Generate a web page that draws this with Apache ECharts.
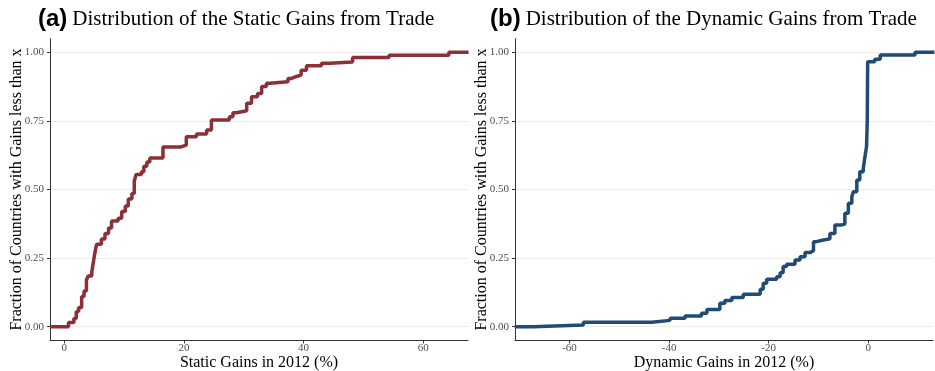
<!DOCTYPE html>
<html><head><meta charset="utf-8">
<script src="https://cdn.jsdelivr.net/npm/echarts@6/dist/echarts.min.js"></script>
<style>html,body{margin:0;padding:0;background:#fff}#c{width:935px;height:371px}</style>
</head><body><div id="c"></div>
<script>
var staticX = [-2.4, 0.7, 1.6, 2.0, 2.4, 2.9, 3.3, 3.7, 4.0, 4.6, 4.9, 5.2, 5.4, 6.2, 6.8, 7.4, 7.9, 9.0, 9.6, 10.2, 10.7, 11.3, 11.7, 12.0, 12.9, 13.3, 13.8, 14.3, 16.5, 19.5, 20.4, 22.1, 23.8, 24.6, 27.6, 28.2, 28.8, 30.5, 31.3, 32.3, 33.0, 33.8, 34.4, 37.4, 38.0, 38.8, 39.6, 40.5, 43.0, 44.4, 48.2, 54.3, 64.3, 67.6];
var staticY = [0, 0.015, 0.03, 0.055, 0.07, 0.11, 0.13, 0.17, 0.185, 0.20, 0.24, 0.28, 0.30, 0.32, 0.34, 0.36, 0.385, 0.395, 0.42, 0.44, 0.465, 0.485, 0.53, 0.555, 0.565, 0.585, 0.60, 0.615, 0.655, 0.662, 0.692, 0.702, 0.717, 0.753, 0.765, 0.78, 0.787, 0.814, 0.838, 0.850, 0.875, 0.887, 0.893, 0.905, 0.912, 0.917, 0.935, 0.951, 0.960, 0.965, 0.981, 0.989, 1.0, 1.0];
var dynamicX = [-71, -67.3, -57.2, -43.5, -39.8, -36.8, -33.5, -32.4, -29.8, -28.8, -27.4, -25.1, -21.7, -21.1, -20.4, -18.4, -17.7, -17.1, -16.4, -14.7, -13.7, -12.7, -11.7, -11.0, -10.4, -9.0, -7.7, -6.7, -5.3, -4.7, -4.0, -3.3, -3.0, -2.3, -1.7, -1.0, -0.66, -0.35, -0.2, -0.12, 1.3, 2.4, 9.4, 13.3];
var dynamicY = [0, 0.006, 0.016, 0.023, 0.031, 0.039, 0.049, 0.063, 0.085, 0.095, 0.106, 0.118, 0.136, 0.158, 0.173, 0.182, 0.197, 0.219, 0.228, 0.243, 0.255, 0.27, 0.277, 0.31, 0.316, 0.32, 0.34, 0.371, 0.374, 0.413, 0.45, 0.474, 0.492, 0.535, 0.565, 0.577, 0.62, 0.656, 0.75, 0.966, 0.975, 0.99, 1.0, 1.0];
var staticTicks = [0, 20, 40, 60];
var dynamicTicks = [-60, -40, -20, 0];
var yTicks = [0, 0.25, 0.5, 0.75, 1];
var titleA = 'Distribution of the Static Gains from Trade';
var titleB = 'Distribution of the Dynamic Gains from Trade';
var xNameA = 'Static Gains in 2012 (%)';
var xNameB = 'Dynamic Gains in 2012 (%)';
var yName = 'Fraction of Countries with Gains less than x';

function pairs(xs, ys){ return xs.map(function(x,i){return [x, ys[i]];}); }
var serif = '"Liberation Serif", "DejaVu Serif", serif';
function xAxis(idx, min, max, ticks, name){
  return {type:'value', gridIndex:idx, min:min, max:max,
    name:name, nameLocation:'middle', nameGap:14, nameMoveOverlap:false,
    nameTextStyle:{fontFamily:serif, fontSize:16, color:'#000'},
    axisLine:{show:true, onZero:false, lineStyle:{color:'#333', width:1}},
    axisTick:{show:true, length:3, customValues:ticks, lineStyle:{color:'#333'}},
    axisLabel:{customValues:ticks, fontFamily:serif, fontSize:11, color:'#4d4d4d', margin:2},
    splitLine:{show:false}};
}
function yAxis(idx){
  return {type:'value', gridIndex:idx, min:-0.05, max:1.05,
    name:yName, nameLocation:'middle', nameGap:25, nameRotate:90, nameMoveOverlap:false,
    nameTextStyle:{fontFamily:serif, fontSize:16, color:'#000'},
    axisLine:{show:true, onZero:false, lineStyle:{color:'#333', width:1}},
    axisTick:{show:true, length:3, customValues:yTicks, lineStyle:{color:'#333'}},
    axisLabel:{customValues:yTicks, fontFamily:serif, fontSize:11, color:'#4d4d4d', margin:6,
      formatter:function(v){return v.toFixed(2);}},
    splitLine:{show:true, lineStyle:{color:'#ebebeb', width:1}}};
}
var chart = echarts.init(document.getElementById('c'), null, {renderer:'canvas'});
var rich = {
  a:{fontFamily:'"Liberation Sans", Arial, sans-serif', fontWeight:'bold', fontSize:24, color:'#000'},
  b:{fontFamily:serif, fontWeight:'normal', fontSize:21, color:'#000'}};
chart.setOption({
  animation:false,
  title:[
    {text:'{a|(a)} {b|'+titleA+'}', left:33, top:2, textStyle:{fontWeight:'normal', rich:rich}},
    {text:'{a|(b)} {b|'+titleB+'}', left:485, top:2, textStyle:{fontWeight:'normal', rich:rich}}
  ],
  grid:[
    {left:50, top:38.6, width:418, height:301.8, outerBoundsMode:'none', containLabel:false},
    {left:515, top:38.6, width:418, height:301.8, outerBoundsMode:'none', containLabel:false}
  ],
  xAxis:[ xAxis(0, -2.39, 67.5, staticTicks, xNameA), xAxis(1, -70.94, 13.0, dynamicTicks, xNameB) ],
  yAxis:[ yAxis(0), yAxis(1) ],
  series:[
    {type:'line', xAxisIndex:0, yAxisIndex:0, step:'end', showSymbol:false, data:pairs(staticX, staticY),
      lineStyle:{color:'#8c2f37', width:3.5}, itemStyle:{color:'#8c2f37'}, clip:true},
    {type:'line', xAxisIndex:1, yAxisIndex:1, step:'end', showSymbol:false, data:pairs(dynamicX, dynamicY),
      lineStyle:{color:'#1f4b74', width:3.5}, itemStyle:{color:'#1f4b74'}, clip:true}
  ]
});
</script></body></html>
